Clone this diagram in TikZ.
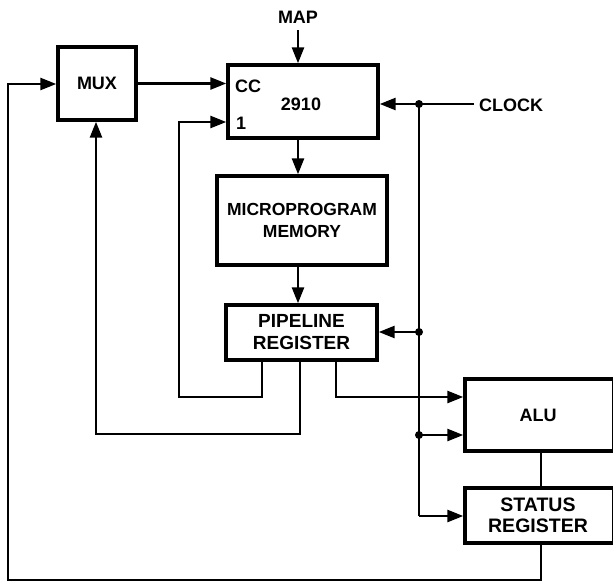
\documentclass[tikz,border=0pt]{standalone}
\usepackage{fontspec}
\setmainfont{Liberation Sans}
\usetikzlibrary{arrows.meta,calc}
\begin{document}
\begin{tikzpicture}[x=1pt,y=-1pt,
  box/.style={draw,line width=3.4pt,rectangle,inner sep=0pt,align=center,
    font=\fontsize{18}{22}\selectfont\bfseries},
  lbl/.style={inner sep=0pt,font=\fontsize{18}{22}\selectfont\bfseries},
  wire/.style={line width=2.6pt},
  arr/.style={wire,-{Triangle[length=16pt,width=12pt]}}]
\useasboundingbox (0,0) rectangle (613,581);
% boxes
\node[box,minimum width=78pt,minimum height=73pt] (mux) at (97,83.5) {MUX};
\node[box,minimum width=150pt,minimum height=73pt] (seq) at (303,101.5) {};
\node[lbl] (seqlbl) at (301,104) {2910};
\node[lbl,anchor=west] (cc) at (235,86) {CC};
\node[lbl,anchor=west] (one) at (236,123) {1};
\node[box,minimum width=170pt,minimum height=89pt,font=\fontsize{17.5}{22}\selectfont\bfseries] (mem) at (302,220.5) {MICROPROGRAM\\MEMORY};
\node[box,minimum width=151pt,minimum height=55pt,font=\fontsize{19}{22}\selectfont\bfseries] (pipe) at (301.5,332.5) {PIPELINE\\REGISTER};
\node[box,minimum width=149pt,minimum height=72pt] (alu) at (539.5,415) {};
\node[lbl] (alulbl) at (538,415) {ALU};
\node[box,minimum width=149pt,minimum height=55pt] (stat) at (539.5,515.5) {};
\node[lbl,align=center,font=\fontsize{19.5}{21}\selectfont\bfseries] (statlbl) at (538,515) {STATUS\\REGISTER};
% labels
\node[lbl] (map) at (298,17) {MAP};
\node[lbl,anchor=west] (clock) at (479,105) {CLOCK};
% coordinates
\coordinate (cdot) at (419,104);
\coordinate (pdot) at (419,332);
\coordinate (adot) at (419,435);
\coordinate (cbot) at (419,516);
\coordinate (bl) at (8,580);
\coordinate (br) at (541,580);
\coordinate (ml) at (8,84);
% dots
\fill (cdot) circle (4pt);
\fill (pdot) circle (4pt);
\fill (adot) circle (4pt);
% MAP
\draw[arr] (298,30) -- (seq.north -| 298,0);
% MUX -> CC
\draw[arr] (mux.east) -- (seq.west |- mux.east);
% 2910 -> memory -> pipeline
\draw[arr] (seq.south -| 298,0) -- (mem.north -| 298,0);
\draw[arr] (mem.south -| 298,0) -- (pipe.north -| 298,0);
% clock
\draw[wire] (clock.west) ++(-5,-1) -- (cdot);
\draw[arr] (cdot) -- (seq.east |- cdot);
\draw[wire] (cdot) -- (cbot);
\draw[arr] (cbot) -- (stat.west |- cbot);
\draw[arr] (pdot) -- (pipe.east |- pdot);
\draw[arr] (adot) -- (alu.west |- adot);
% pipeline outputs
\draw[arr] (pipe.south -| 262,0) -- (262,397) -- (179,397) -- (179,122) -- (seq.west |- 0,122);
\draw[arr] (pipe.south -| 300,0) -- (300,434) -- (96,434) -- (mux.south -| 96,0);
\draw[arr] (pipe.south -| 336,0) -- (336,397) -- (alu.west |- 0,397);
% ALU -> status
\draw[wire] (alu.south -| 541,0) -- (stat.north -| 541,0);
% feedback loop
\draw[arr] (stat.south -| br) -- (br) -- (bl) -- (ml) -- (mux.west |- ml);
\end{tikzpicture}
\end{document}
